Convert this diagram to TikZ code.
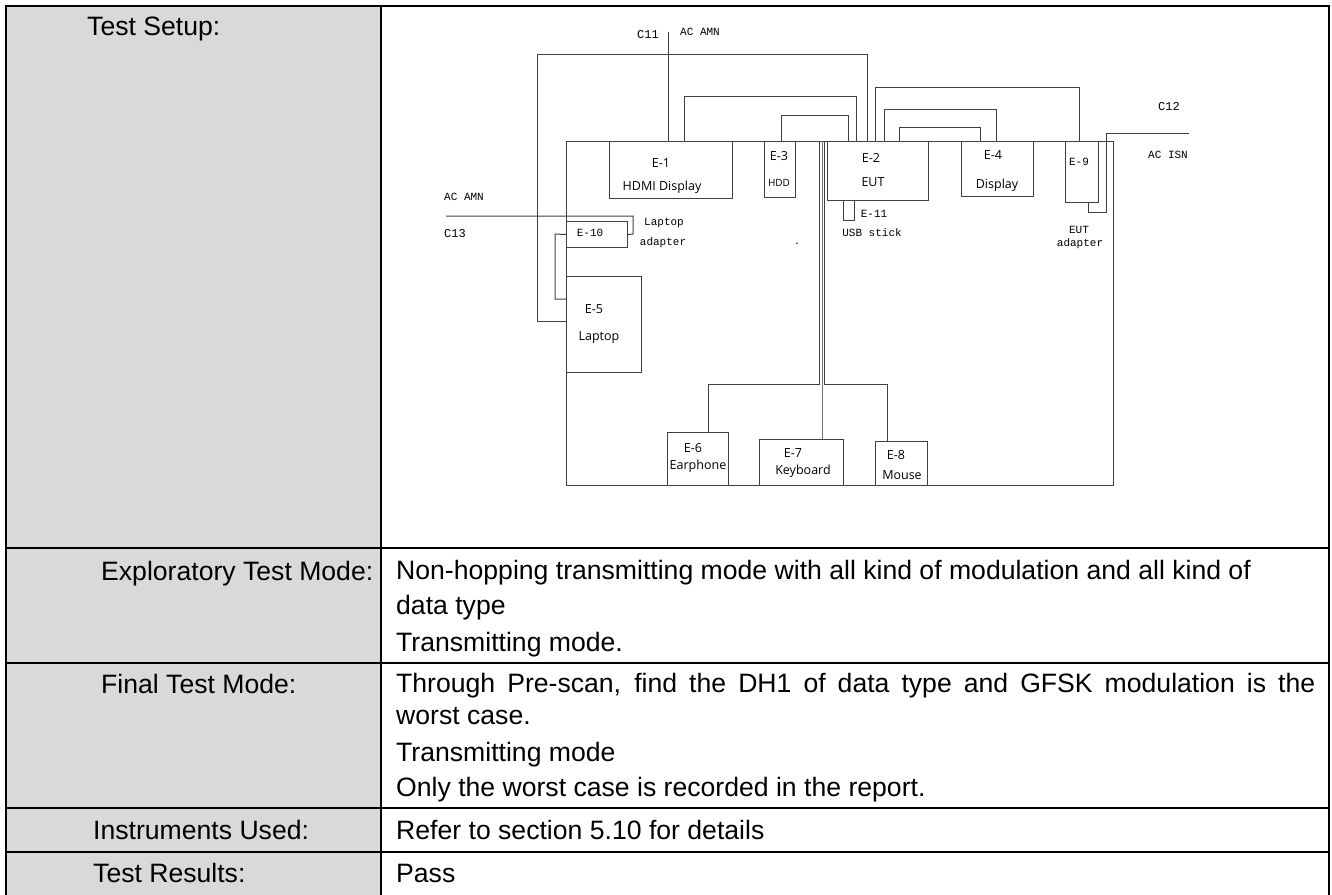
\documentclass[tikz,border=0pt]{standalone}
\usepackage{fontspec}
\setmainfont{Liberation Sans}
\setmonofont{Liberation Mono}
\newfontfamily\uifont{Open Sans}
\usetikzlibrary{positioning}
\definecolor{cellgray}{HTML}{D9D9D9}
\definecolor{wiregray}{HTML}{404040}

\begin{document}
\begin{tikzpicture}[x=1pt,y=-1pt,
    box/.style={draw=wiregray, line width=1pt, inner sep=0pt, anchor=north west},
    wire/.style={draw=wiregray, line width=1pt},
    gridline/.style={line width=2pt},
    tab/.style={font=\fontsize{26.6}{32}\selectfont, anchor=base west, inner sep=0pt},
    ui/.style={font=\uifont\fontsize{12.5}{15}\selectfont, inner sep=0pt},
    mono/.style={font=\ttfamily\fontsize{11}{13}\selectfont, inner sep=0pt},
    cab/.style={font=\ttfamily\fontsize{12}{14}\selectfont, inner sep=0pt}]
\useasboundingbox (0,0) rectangle (1332,894);

% table
\fill[cellgray] (6,6) rectangle (381,900);
\draw[gridline] (6,900) -- (6,6) -- (1329,6) -- (1329,900);
\draw[gridline] (381,6) -- (381,900);
\foreach \y in {548,663,808,852} \draw[gridline] (6,\y) -- (1329,\y);

\node[tab] (setup) at (87,35) {Test Setup:};
\node[tab] (explo) at (101,580) {Exploratory Test Mode:};
\node[tab] (final) at (101,693) {Final Test Mode:};
\node[tab] (instr) at (93,839) {Instruments Used:};
\node[tab] (result) at (93,882) {Test Results:};

\node[tab] (explo1) at (396,579) {Non-hopping transmitting mode with all kind of modulation and all kind of};
\node[tab] (explo2) at (396,614) {data type};
\node[tab] (explo3) at (396,651) {Transmitting mode.};
\node[tab] (final1) at (396,692) {\makebox[919pt][s]{Through Pre-scan, find the DH1 of data type and GFSK modulation is the}};
\node[tab] (final2) at (396,724) {worst case.};
\node[tab] (final3) at (396,761) {Transmitting mode};
\node[tab] (final4) at (396,796) {Only the worst case is recorded in the report.};
\node[tab] (instr1) at (396,839) {Refer to section 5.10 for details};
\node[tab] (result1) at (396,882) {Pass};

% setup boxes
\node[box, minimum width=547pt, minimum height=344pt] (room) at (566,141) {};
\node[box, minimum width=123pt, minimum height=57pt] (e1) at (609,141) {};
\node[box, minimum width=31pt, minimum height=56pt] (e3) at (764,141) {};
\node[box, minimum width=101pt, minimum height=59pt] (e2) at (827,141) {};
\node[box, minimum width=72pt, minimum height=55pt] (e4) at (961,141) {};
\node[box, minimum width=33pt, minimum height=61pt] (e9) at (1065,141) {};
\node[box, minimum width=11pt, minimum height=20pt] (e11) at (843,200) {};
\node[box, minimum width=61pt, minimum height=26pt] (e10) at (566,221) {};
\node[box, minimum width=75pt, minimum height=96pt] (e5) at (566,276) {};
\node[box, minimum width=61pt, minimum height=53pt] (e6) at (667,432) {};
\node[box, minimum width=84pt, minimum height=46pt] (e7) at (759,439) {};
\node[box, minimum width=52pt, minimum height=44pt] (e8) at (875,441) {};

% labels
\node[ui] (e1a) at (661,163) {E-1};
\node[ui] (e1b) at (662,187) {HDMI Display};
\node[ui] (e3a) at (779,156) {E-3};
\node[ui, font=\uifont\fontsize{10}{12}\selectfont] (e3b) at (779,183) {HDD};
\node[ui] (e2a) at (871,158) {E-2};
\node[ui] (e2b) at (873,182) {EUT};
\node[ui] (e4a) at (993,155) {E-4};
\node[ui] (e4b) at (997,185) {Display};
\node[ui] (e5a) at (594,309) {E-5};
\node[ui] (e5b) at (599,338) {Laptop};
\node[ui] (e6a) at (693,448) {E-6};
\node[ui] (e6b) at (698,466) {Earphone};
\node[ui] (e7a) at (793,453) {E-7};
\node[ui] (e7b) at (803,471) {Keyboard};
\node[ui] (e8a) at (896,455) {E-8};
\node[ui] (e8b) at (902,475) {Mouse};
\node[ui] (dot) at (797,244) {.};

\node[mono] (e9a) at (1079,162) {E-9};
\node[mono] (e9b) at (1079,230) {EUT};
\node[mono] (e9c) at (1080,244) {adapter};
\node[mono] (e10a) at (590,233) {E-10};
\node[mono] (e10b) at (664,223) {Laptop};
\node[mono] (e10c) at (663,243) {adapter};
\node[mono] (e11a) at (874,214) {E-11};
\node[mono] (e11b) at (872,233) {USB stick};
\node[mono] (amn1) at (700,32) {AC AMN};
\node[mono] (amn2) at (464,197) {AC AMN};
\node[mono] (isn) at (1168,155) {AC ISN};
\node[cab] (c11t) at (648,35) {C11};
\node[cab] (c12t) at (1169,107) {C12};
\node[cab] (c13t) at (455,234) {C13};

% cables
\coordinate (c11) at (668,32);
\coordinate (c12) at (1189,133);
\coordinate (c13) at (446,216);
\draw[wire] (c11) -- (e1.north -| c11);
\draw[wire] (e5.west |- 0,321) -| (537,54) -| (e2.north -| 867,0);
\draw[wire] (e1.north -| 684,0) |- (856,96) -- (e2.north -| 856,0);
\draw[wire] (e3.north -| 781,0) |- (848,115) -- (e2.north -| 848,0);
\draw[wire] (e2.north -| 875,0) |- (1079,87) -- (e9.north -| 1079,0);
\draw[wire] (e2.north -| 884,0) |- (996,109) -- (e4.north -| 996,0);
\draw[wire] (e2.north -| 899,0) |- (980,127) -- (e4.north -| 980,0);
\draw[wire] (room.north -| 819,0) |- (708,384) -- (e6.north -| 708,0);
\draw[wire, draw=black!55] (room.north -| 822,0) -- (e7.north -| 822,0);
\draw[wire] (room.north -| 824,0) |- (887,384) -- (e8.north -| 887,0);
\draw[wire] (c13) -| (633,234) -- (e10.east);
\draw[wire] (e10.west) -- (555,234) |- (e5.west |- 0,299);
\draw[wire] (e9.south -| 1088,0) |- (1106,212) |- (c12);
\end{tikzpicture}
\end{document}
